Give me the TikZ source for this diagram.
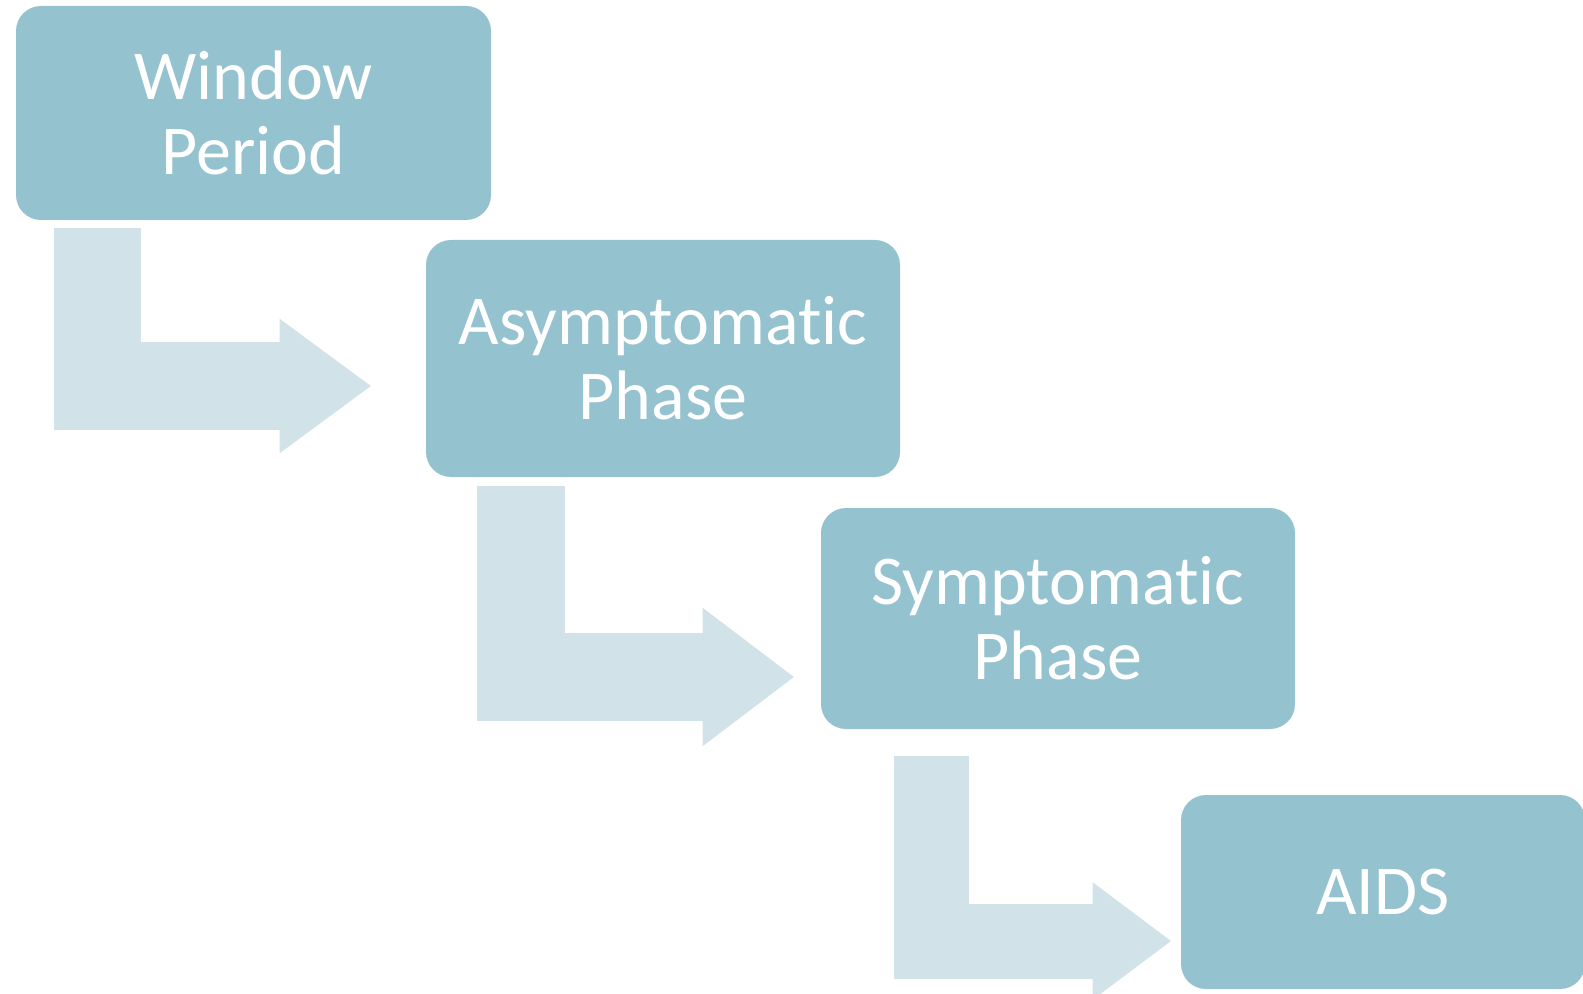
\documentclass[tikz,border=0pt]{standalone}
\usepackage{fontspec}
\setmainfont{Carlito}[Ligatures={NoCommon}]
\usetikzlibrary{arrows.meta}
\definecolor{phasefill}{RGB}{148,194,206}
\definecolor{flowfill}{RGB}{209,227,232}
\tikzset{
	phase/.style={fill=phasefill, rounded corners=12.5pt, text=white, align=center,
		inner sep=0pt, font=\fontsize{35}{37.5}\selectfont},
	flow/.style={draw=flowfill, line width=44pt, line join=miter}
}
\begin{document}
\begin{tikzpicture}[x=0.5pt,y=-0.5pt]
	\useasboundingbox (0,0) rectangle (1583,994);
	% the four phases
	\node[phase, minimum width=237.5pt, minimum height=107pt] (win) at (253.5,113) {Window\\Period};
	\node[phase, minimum width=237pt, minimum height=118.5pt] (asym) at (663,358.5) {Asymptomatic\\Phase};
	\node[phase, minimum width=237pt, minimum height=110.5pt] (sympt) at (1058,618.5) {Symptomatic\\Phase};
	\node[phase, minimum width=202pt, minimum height=97pt] (aids) at (1383,892) {AIDS};
	% bent arrows between them
	\draw[flow, line width=43.5pt, -{Triangle[length=46pt,width=64pt]}]
		([xshift=41pt,yshift=-4pt]win.south west) |- ([xshift=-27pt,yshift=-13.75pt]asym.west);
	\draw[flow, -{Triangle[length=46pt,width=66pt]}]
		([xshift=47.5pt,yshift=-4.5pt]asym.south west) |- ([xshift=-13pt,yshift=-29.25pt]sympt.west);
	\draw[flow, line width=37.5pt, -{Triangle[length=39.5pt,width=56pt]}]
		([xshift=55.5pt,yshift=-13.5pt]sympt.south west) |- ([xshift=-4.5pt,yshift=-24.5pt]aids.west);
\end{tikzpicture}
\end{document}
